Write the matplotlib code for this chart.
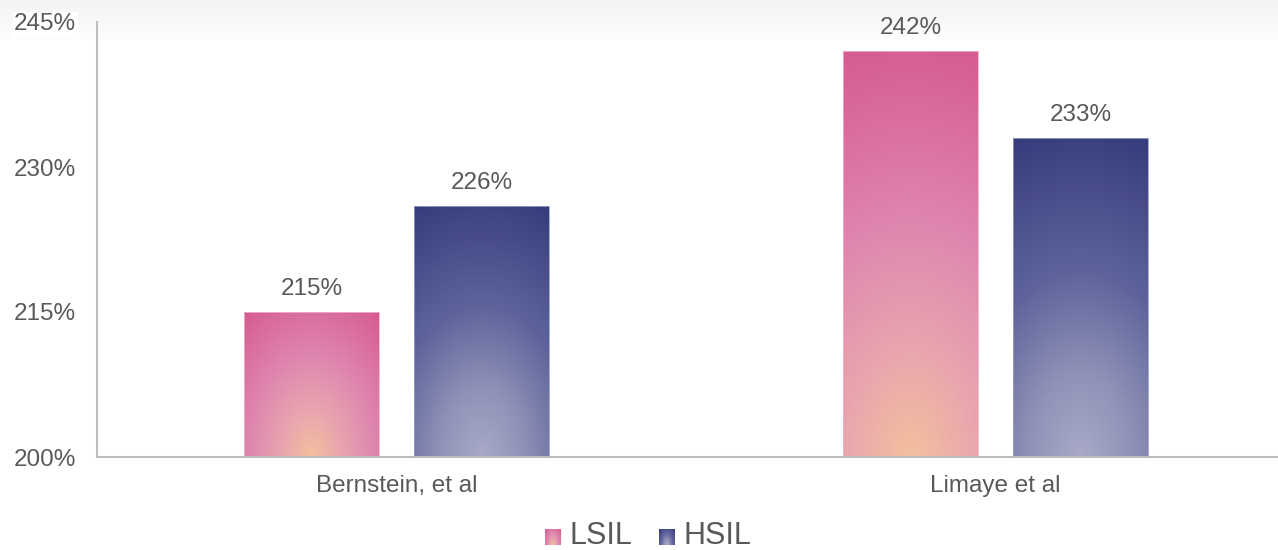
import numpy as np
import matplotlib
matplotlib.use("Agg")
import matplotlib.pyplot as plt
from matplotlib.colors import LinearSegmentedColormap
from matplotlib.patches import Rectangle

categories = ["Bernstein, et al", "Limaye et al"]
series_names = ["LSIL", "HSIL"]
lsil = [215, 242]
hsil = [226, 233]
yticks = [200, 215, 230, 245]

plt.rcParams['font.family'] = ['Liberation Sans', 'DejaVu Sans']
TXT = '#595959'

W, H = 1278, 550
fig = plt.figure(figsize=(W/100, H/100), dpi=100)
fig.patch.set_facecolor('white')

# faint top band
band = fig.add_axes([0, 1-40/H, 1, 40/H], zorder=-1)
g = np.linspace(0, 1, 50).reshape(-1, 1)
band.imshow(g, aspect='auto', cmap=LinearSegmentedColormap.from_list('b', ['#F4F4F4', '#F8F8F8', '#FEFEFE']),
            extent=(0, 1, 0, 1), vmin=0, vmax=1)
band.axis('off')

left_px, right_px, bottom_px, top_px = 97, 1278, 457, 22
ax = fig.add_axes([left_px/W, (H-bottom_px)/H, (right_px-left_px)/W, (bottom_px-top_px)/H])
ax.set_facecolor('none')
xlim = (-0.5, -0.5 + (right_px-left_px)/599)
ax.set_xlim(*xlim)
ax.set_ylim(200, 245)

pxx = (right_px-left_px)/(xlim[1]-xlim[0])
pxy = (bottom_px-top_px)/45.0

cm_l = LinearSegmentedColormap.from_list('l', [(0, '#F3C09E'), (0.25, '#E9A6AE'), (0.55, '#DF87B0'), (1.0, '#D65B91')])
cm_h = LinearSegmentedColormap.from_list('h', [(0, '#A9AAC8'), (0.25, '#8F91B7'), (0.55, '#5E649B'), (1.0, '#363B7C')])

bw = 0.225
off = 0.142

def grad_bar(xc, top, cmap, edge):
    x0, x1 = xc - bw/2, xc + bw/2
    wpx = bw*pxx
    hpx = (top-200)*pxy
    nx, ny = 120, 200
    xs = np.linspace(-wpx/2, wpx/2, nx)*1.6
    ys = np.linspace(0, hpx, ny)
    X, Y = np.meshgrid(xs, ys)
    R = np.sqrt(X**2 + Y**2)
    R = R / np.sqrt((wpx/2*1.6)**2 + hpx**2)
    rect = Rectangle((x0, 200), bw, top-200, facecolor='none', edgecolor=edge, lw=0.6, zorder=3)
    ax.add_patch(rect)
    im = ax.imshow(R, origin='lower', extent=(x0, x1, 200, top), aspect='auto', cmap=cmap,
                   vmin=0, vmax=1, zorder=2, interpolation='bilinear')
    im.set_clip_path(rect)

x = np.arange(len(categories))
for i in range(len(categories)):
    grad_bar(x[i]-off, lsil[i], cm_l, '#EFB3CC')
    grad_bar(x[i]+off, hsil[i], cm_h, '#9A9DC6')
    for xc, v in ((x[i]-off, lsil[i]), (x[i]+off, hsil[i])):
        ax.annotate(f"{v}%", (xc, v), xytext=(0, 12), textcoords='offset pixels',
                    ha='center', va='bottom', fontsize=17.5, color=TXT, zorder=4)

ax.set_xlim(*xlim)
ax.set_ylim(200, 245)
ax.set_yticks(yticks)
ax.set_yticklabels([f"{t}%" for t in yticks], fontsize=17.5, color=TXT)
ax.set_xticks(x)
ax.set_xticklabels(categories, fontsize=17.5, color=TXT)
ax.tick_params(axis='y', length=0, pad=15)
ax.tick_params(axis='x', length=0, pad=13)
for s in ('top', 'right'):
    ax.spines[s].set_visible(False)
for s in ('left', 'bottom'):
    ax.spines[s].set_color('#BDBDBD')
    ax.spines[s].set_linewidth(1.5)
ax.get_yticklabels()[-1].set_bbox(dict(facecolor='white', edgecolor='none', pad=1))

# legend
def leg_square(xpx, ypx, cmap):
    s = 16
    la = fig.add_axes([xpx/W, (H-ypx-s)/H, s/W, s/H])
    xs = np.linspace(-1, 1, 30)
    ys = np.linspace(0, 1, 30)
    X, Y = np.meshgrid(xs, ys)
    R = np.sqrt(X**2 + Y**2)/np.sqrt(2)
    la.imshow(R, origin='lower', cmap=cmap, vmin=0, vmax=1, aspect='auto', extent=(0, 1, 0, 1))
    la.set_xticks([]); la.set_yticks([])
    for sp in la.spines.values():
        sp.set_visible(False)

leg_square(545, 529, cm_l)
fig.text(569/W, 1-544/H, series_names[0], fontsize=22, color=TXT, ha='left', va='baseline')
leg_square(659, 529, cm_h)
fig.text(684/W, 1-544/H, series_names[1], fontsize=22, color=TXT, ha='left', va='baseline')

fig.savefig('out.png', dpi=100)
